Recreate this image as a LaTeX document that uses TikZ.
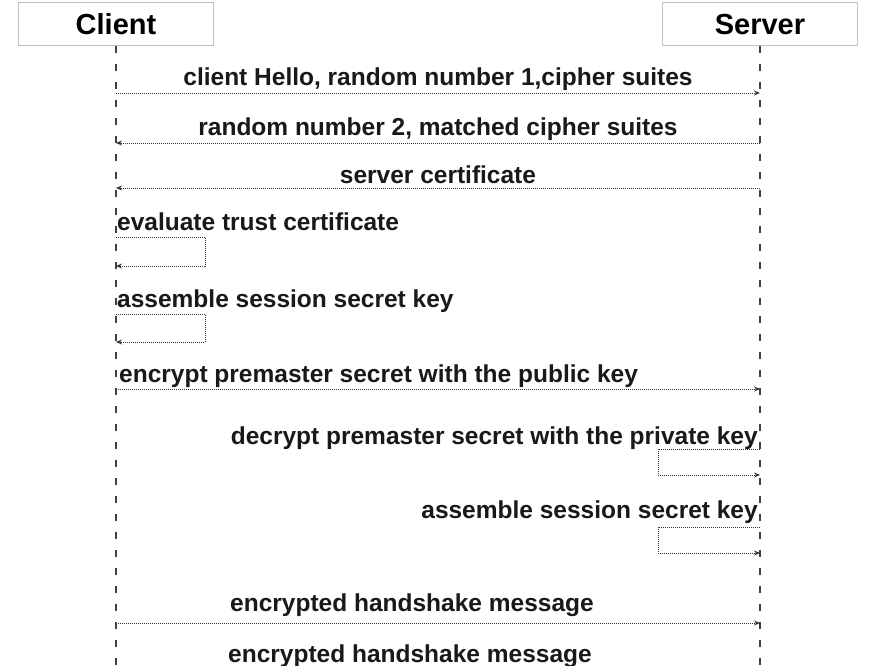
\documentclass[tikz,border=0pt]{standalone}
\usepackage{fontspec}
\setmainfont{Liberation Sans}
\usetikzlibrary{arrows.meta}
\begin{document}
\begin{tikzpicture}[x=1pt,y=-1pt,
  actor/.style={draw=black!25,line width=0.8pt,minimum width=195pt,minimum height=43pt,inner sep=0pt,text height=21pt,text depth=0pt,font=\fontsize{29}{29}\selectfont\bfseries},
  life/.style={line width=1.3pt,dash pattern=on 7pt off 11pt,black!75},
  msg/.style={line width=0.9pt,dash pattern=on 0.9pt off 1.1pt,black!80,-{Stealth[length=6pt,width=5pt]}},
  lbl/.style={inner sep=0pt,font=\fontsize{24.5}{25}\selectfont\bfseries,text=black!90}]
\useasboundingbox (0,0) rectangle (876,666);
\clip (0,0) rectangle (876,666);
\fill[white] (0,0) rectangle (876,666);
% actors
\node[actor] (client) at (116,24) {Client};
\node[actor] (server) at (760,24) {Server};
\coordinate (cend) at (116,666);
\coordinate (send) at (760,666);
\draw[life] (client.south) -- (cend);
\draw[life] (server.south) -- (send);
% message 1
\coordinate (m1a) at (116,93); \coordinate (m1b) at (760,93);
\draw[msg] (m1a) -- (m1b);
\node[lbl,anchor=base] (t1) at (438,86) {client Hello, random number 1,cipher suites};
% message 2
\coordinate (m2a) at (760,143); \coordinate (m2b) at (116,143);
\draw[msg] (m2a) -- (m2b);
\node[lbl,anchor=base] (t2) at (438,136) {random number 2, matched cipher suites};
% message 3
\coordinate (m3a) at (760,188); \coordinate (m3b) at (116,188);
\draw[msg] (m3a) -- (m3b);
\node[lbl,anchor=base] (t3) at (438,183) {server certificate};
% self 1
\coordinate (s1a) at (116,237); \coordinate (s1b) at (205,237);
\coordinate (s1c) at (205,266); \coordinate (s1d) at (116,266);
\draw[msg] (s1a) -- (s1b) -- (s1c) -- (s1d);
\node[lbl,anchor=base west] (t4) at (117,230) {evaluate trust certificate};
% self 2
\coordinate (s2a) at (116,314); \coordinate (s2b) at (205,314);
\coordinate (s2c) at (205,342); \coordinate (s2d) at (116,342);
\draw[msg] (s2a) -- (s2b) -- (s2c) -- (s2d);
\node[lbl,anchor=base west] (t5) at (117,307) {assemble session secret key};
% message 4
\coordinate (m4a) at (116,389); \coordinate (m4b) at (760,389);
\draw[msg] (m4a) -- (m4b);
\node[lbl,anchor=base west] (t6) at (119,382) {encrypt premaster secret with the public key};
% self 3
\coordinate (s3a) at (760,449); \coordinate (s3b) at (658,449);
\coordinate (s3c) at (658,475); \coordinate (s3d) at (760,475);
\draw[msg] (s3a) -- (s3b) -- (s3c) -- (s3d);
\node[lbl,anchor=base east] (t7) at (758,444) {decrypt premaster secret with the private key};
% self 4
\coordinate (s4a) at (760,527); \coordinate (s4b) at (658,527);
\coordinate (s4c) at (658,553); \coordinate (s4d) at (760,553);
\draw[msg] (s4a) -- (s4b) -- (s4c) -- (s4d);
\node[lbl,anchor=base east] (t8) at (758,518) {assemble session secret key};
% message 5
\coordinate (m5a) at (116,623); \coordinate (m5b) at (760,623);
\draw[msg] (m5a) -- (m5b);
\node[lbl,anchor=base] (t9) at (412,611) {encrypted handshake message};
% message 6 label (cut off)
\node[lbl,anchor=base] (t10) at (410,662) {encrypted handshake message};
\end{tikzpicture}
\end{document}
